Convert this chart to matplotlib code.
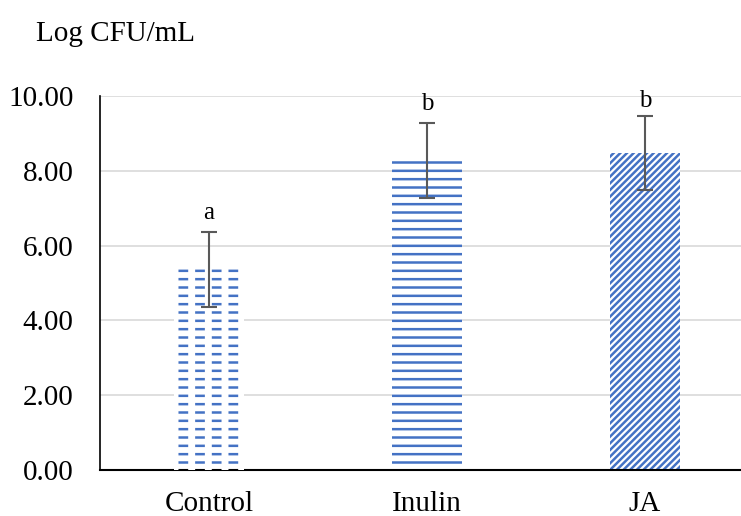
import matplotlib.pyplot as plt
import numpy as np

# data
groups = ['Control', 'Inulin', 'JA']
means = [5.37, 8.27, 8.48]
errors = [1.00, 1.00, 0.99]
letters = ['a', 'b', 'b']
hatches = ['--', '--', '/////']

blue = '#4472C4'

plt.rcParams['font.family'] = ['Liberation Serif', 'DejaVu Serif']
plt.rcParams['hatch.linewidth'] = 1.8

fig = plt.figure(figsize=(7.41, 5.16), dpi=100)
ax = fig.add_axes([0.135, 0.089, 0.8826, 0.7248])

x = np.arange(len(groups))
bars = ax.bar(x, means, width=0.317, color='white', edgecolor=blue,
              linewidth=0, hatch=hatches, zorder=2)

# break the Control lines into dashes with a white vertical hatch on top
cover = ax.bar(x[:1], means[:1], width=0.317, color='none', edgecolor='white',
               linewidth=0, hatch='|', zorder=3)
for p in cover:
    if hasattr(p, 'set_hatch_linewidth'):
        p.set_hatch_linewidth(5.0)

ax.errorbar(x, means, yerr=errors, fmt='none', ecolor='#595959',
            elinewidth=1.5, capsize=6, capthick=1.5, zorder=4)

for xi, m, e, lab in zip(x, means, errors, letters):
    y = min(m + e + 0.22, 9.58)
    ax.text(xi, y, lab, ha='center', va='bottom', fontsize=18)

ax.set_xlim(-0.5, 2.5)
ax.set_ylim(0, 10)
ax.set_yticks(np.arange(0, 10.1, 2))
ax.set_yticklabels([f'{v:.2f}' for v in np.arange(0, 10.1, 2)])
ax.set_xticks(x)
ax.set_xticklabels(groups)
ax.tick_params(axis='both', length=0, labelsize=21)
ax.tick_params(axis='x', pad=15)
ax.tick_params(axis='y', pad=19)

ax.grid(axis='y', color='#D9D9D9', linewidth=1.2, zorder=0)
ax.set_axisbelow(True)
for s in ['top', 'right']:
    ax.spines[s].set_visible(False)
ax.spines['left'].set_color('black')
ax.spines['bottom'].set_color('black')
ax.spines['left'].set_linewidth(1.2)
ax.spines['bottom'].set_linewidth(1.5)

fig.text(0.048, 0.935, 'Log CFU/mL', fontsize=21, ha='left', va='center')

fig.savefig('out.png', dpi=100)
